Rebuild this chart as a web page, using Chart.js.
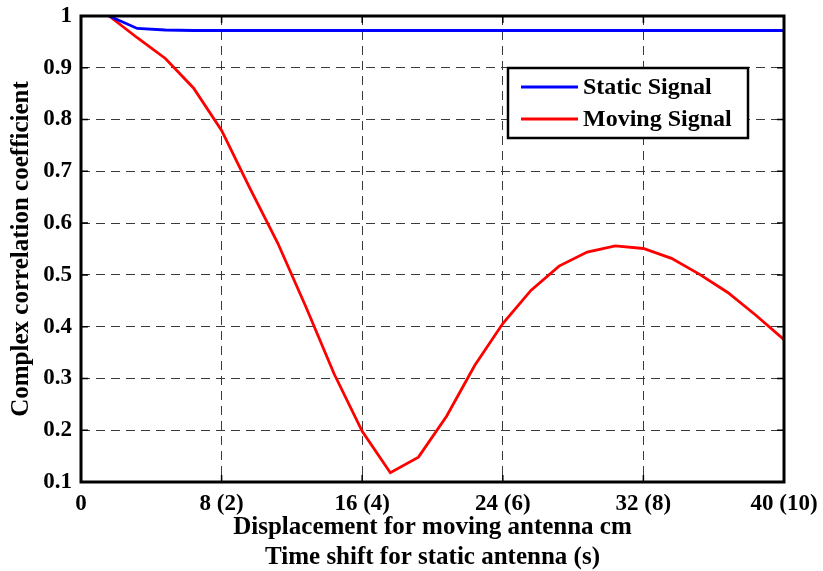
<!DOCTYPE html>
<html>
<head>
<meta charset="utf-8">
<script src="https://cdn.jsdelivr.net/npm/chart.js@4.4.1/dist/chart.umd.min.js"></script>
<style>
    html, body { margin: 0; padding: 0; background: #fff; }
    canvas { display: block; }
</style>
</head>
<body>
<canvas id="myChart" width="823" height="571"></canvas>
<script>
    // displacement in cm (time shift = displacement / 4)
    const displacement = [1.6, 3.2, 4.8, 6.4, 8, 9.6, 11.2, 12.8, 14.4, 16, 17.6, 19.2, 20.8,
        22.4, 24, 25.6, 27.2, 28.8, 30.4, 32, 33.6, 35.2, 36.8, 38.4, 40];

    const staticSignal = [1.0, 0.976, 0.973, 0.972, 0.972, 0.972, 0.972, 0.972, 0.972, 0.972,
        0.972, 0.972, 0.972, 0.972, 0.972, 0.972, 0.972, 0.972, 0.972, 0.972, 0.972, 0.972,
        0.972, 0.972, 0.972];

    const movingSignal = [1.0, 0.958, 0.918, 0.861, 0.779, 0.668, 0.561, 0.438, 0.309, 0.198,
        0.118, 0.148, 0.227, 0.325, 0.406, 0.470, 0.517, 0.544, 0.556, 0.551, 0.532, 0.501,
        0.466, 0.422, 0.375];

    const xTickValues = [0, 8, 16, 24, 32, 40];
    const xTickLabels = ["0", "8 (2)", "16 (4)", "24 (6)", "32 (8)", "40 (10)"];
    const yTickLabels = ["0.1", "0.2", "0.3", "0.4", "0.5", "0.6", "0.7", "0.8", "0.9", "1"];

    const serif = "'Liberation Serif', 'Times New Roman', serif";
    const gridColor = "#3a3a3a";

    // box around the plot, matlab style inner ticks, legend inside the axes
    const frameAndLegend = {
        id: "frameAndLegend",
        afterDraw(chart) {
            const ctx = chart.ctx;
            const a = chart.chartArea;
            const xs = chart.scales.x;
            const ys = chart.scales.y;
            const tl = 7;
            ctx.save();
            ctx.strokeStyle = "#000";
            ctx.lineWidth = 1.5;
            ctx.beginPath();
            xs.ticks.forEach(t => {
                const px = xs.getPixelForValue(t.value);
                ctx.moveTo(px, a.top); ctx.lineTo(px, a.top + tl);
                ctx.moveTo(px, a.bottom); ctx.lineTo(px, a.bottom - tl);
            });
            ys.ticks.forEach(t => {
                const py = ys.getPixelForValue(t.value);
                ctx.moveTo(a.left, py); ctx.lineTo(a.left + tl, py);
                ctx.moveTo(a.right, py); ctx.lineTo(a.right - tl, py);
            });
            ctx.stroke();

            ctx.lineWidth = 3;
            ctx.strokeRect(a.left, a.top, a.right - a.left, a.bottom - a.top);

            // legend
            const bx = 508, by = 68, bw = 240, bh = 70;
            ctx.fillStyle = "#fff";
            ctx.fillRect(bx, by, bw, bh);
            ctx.lineWidth = 2.5;
            ctx.strokeRect(bx, by, bw, bh);
            ctx.font = "bold 24px " + serif;
            ctx.textBaseline = "middle";
            ctx.textAlign = "left";
            chart.data.datasets.forEach((ds, i) => {
                const ly = by + 19 + i * 32;
                ctx.strokeStyle = ds.borderColor;
                ctx.lineWidth = 2.8;
                ctx.beginPath();
                ctx.moveTo(bx + 13, ly);
                ctx.lineTo(bx + 70, ly);
                ctx.stroke();
                ctx.fillStyle = "#000";
                ctx.fillText(ds.label, bx + 75, ly + 1);
            });
            ctx.restore();
        }
    };

    const ctx = document.getElementById("myChart").getContext("2d");

    const myChart = new Chart(ctx, {
        type: "line",
        data: {
            datasets: [
                {
                    label: "Static Signal",
                    data: displacement.map((x, i) => ({x: x, y: staticSignal[i]})),
                    borderColor: "#0000ff",
                    backgroundColor: "#0000ff",
                    borderWidth: 2.8,
                    pointRadius: 0,
                    tension: 0,
                    fill: false
                },
                {
                    label: "Moving Signal",
                    data: displacement.map((x, i) => ({x: x, y: movingSignal[i]})),
                    borderColor: "#ff0000",
                    backgroundColor: "#ff0000",
                    borderWidth: 2.8,
                    pointRadius: 0,
                    tension: 0,
                    fill: false
                }
            ]
        },
        options: {
            responsive: false,
            animation: false,
            layout: {
                padding: {top: 16, right: 39, left: 0, bottom: 0}
            },
            plugins: {
                legend: {display: false},
                tooltip: {enabled: false}
            },
            scales: {
                x: {
                    type: "linear",
                    min: 0,
                    max: 40,
                    afterFit: (scale) => {
                        scale.height = 89;
                        scale.paddingLeft = 0;
                        scale.paddingRight = 0;
                    },
                    ticks: {
                        stepSize: 8,
                        autoSkip: false,
                        maxRotation: 0,
                        padding: 8,
                        color: "#000",
                        font: {family: serif, size: 23, weight: "bold", lineHeight: 1.2},
                        callback: (value) => {
                            const i = xTickValues.indexOf(value);
                            return i >= 0 ? xTickLabels[i] : "";
                        }
                    },
                    grid: {
                        drawTicks: false,
                        lineWidth: 1,
                        color: (c) => (c.tick && (c.tick.value === 0 || c.tick.value === 40)) ? "rgba(0,0,0,0)" : gridColor
                    },
                    border: {display: false, dash: [9, 6]},
                    title: {
                        display: true,
                        text: ["Displacement for moving antenna cm", "Time shift for static antenna (s)"],
                        color: "#000",
                        font: {family: serif, size: 25, weight: "bold", lineHeight: 1.2},
                        padding: {top: 0, bottom: -2}
                    }
                },
                y: {
                    min: 0.1,
                    max: 1,
                    afterFit: (scale) => {
                        scale.width = 81;
                        scale.paddingTop = 0;
                        scale.paddingBottom = 0;
                    },
                    ticks: {
                        stepSize: 0.1,
                        padding: 9,
                        color: "#000",
                        font: {family: serif, size: 23, weight: "bold"},
                        callback: (value) => yTickLabels[Math.round(value * 10) - 1]
                    },
                    grid: {
                        drawTicks: false,
                        lineWidth: 1,
                        color: (c) => (c.tick && (Math.abs(c.tick.value - 0.1) < 1e-6 || Math.abs(c.tick.value - 1) < 1e-6)) ? "rgba(0,0,0,0)" : gridColor
                    },
                    border: {display: false, dash: [9, 6]},
                    title: {
                        display: true,
                        text: "Complex correlation coefficient",
                        color: "#000",
                        font: {family: serif, size: 25, weight: "bold", lineHeight: 1.2},
                        padding: {top: 7, bottom: 0}
                    }
                }
            }
        },
        plugins: [frameAndLegend]
    });
</script>
</body>
</html>
